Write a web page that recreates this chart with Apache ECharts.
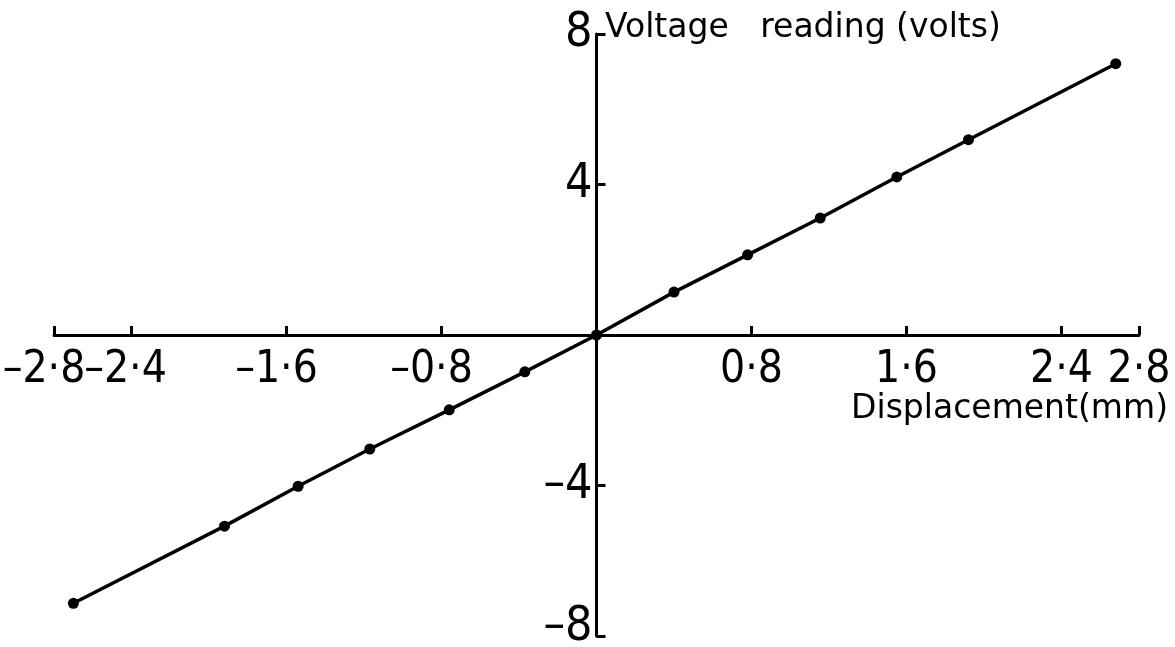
<!DOCTYPE html>
<html>
<head>
<meta charset="utf-8">
<script src="https://cdn.jsdelivr.net/npm/echarts@6/dist/echarts.min.js"></script>
<style>
  html, body { margin: 0; padding: 0; background: #fff; }
  #chart { width: 1175px; height: 647px; }
</style>
</head>
<body>
<div id="chart"></div>
<script>
// Calibration readings: displacement (mm) against voltage (V)
const displacement = [-2.70, -1.92, -1.54, -1.17, -0.76, -0.37, 0, 0.40, 0.78, 1.155, 1.55, 1.92, 2.68];
const voltage      = [-7.13, -5.08, -4.02, -3.03, -1.99, -0.98, 0, 1.14, 2.13, 3.11, 4.20, 5.19, 7.21];

// Tick positions and labels (x ticks split over two axis layers so the
// tightly packed -2.8 / -2.4 pair both stay visible)
const xTicksA = [-2.8, -1.6, 0.8, 2.4];
const xTicksB = [-2.4, -0.8, 1.6, 2.8];
const yTicks = [-8, -4, 4, 8];

const xTitle = 'Displacement(mm)';
const yTitle = 'Voltage   reading (volts)';

const numFont = "'DejaVu Sans Condensed', 'Liberation Sans', sans-serif";
const titleFont = "'DejaVu Sans', sans-serif";
const DASH = '\u2013';

// Plot area in pixels; the axes cross at the data origin
const G = { left: 54, right: 36, top: 34, bottom: 11 };
const W = 1175 - G.left - G.right;
const H = 647 - G.top - G.bottom;
const xMin = -2.8, xMax = 2.8, yMin = -8, yMax = 8;
const yAxisShift = W * (0 - xMin) / (xMax - xMin);   // distance from grid left to x = 0
const xAxisShift = H * (0 - yMin) / (yMax - yMin);   // distance from grid bottom to y = 0

function fmt(v) {
  const s = Math.abs(v).toFixed(1).replace('.', '\u00b7');
  if (v < 0) return (v === -2.4 ? '{negR|' : '{neg|') + DASH + s + '}';
  return '{pos|' + s + '}';
}
function fmtY(v) {
  if (v === yMin) return '{lift|' + DASH + Math.abs(v) + '}';
  return '{n|' + (v < 0 ? DASH + Math.abs(v) : String(v)) + '}';
}

const xLabelSize = 44;
const xRich = {
  neg:  { fontFamily: numFont, fontSize: xLabelSize, color: '#000', padding: [0, 20, 0, 0] },
  negR: { fontFamily: numFont, fontSize: xLabelSize, color: '#000', padding: [0, 12, 0, 0] },
  pos:  { fontFamily: numFont, fontSize: xLabelSize, color: '#000' }
};
const yRich = {
  n:    { fontFamily: numFont, fontSize: 48, color: '#000' },
  lift: { fontFamily: numFont, fontSize: 48, color: '#000', padding: [0, 0, 16, 0] }
};

function xAxisLayer(ticks, showLine) {
  return {
    type: 'value',
    min: xMin,
    max: xMax,
    position: 'bottom',
    offset: -xAxisShift,
    axisLine: { show: showLine, onZero: false, lineStyle: { color: '#000', width: 3 } },
    axisTick: { show: true, inside: true, length: 9, customValues: ticks, lineStyle: { color: '#000', width: 3 } },
    axisLabel: {
      customValues: ticks,
      showMinLabel: true,
      showMaxLabel: true,
      hideOverlap: false,
      margin: 14,
      formatter: fmt,
      rich: xRich
    },
    splitLine: { show: false }
  };
}

const chart = echarts.init(document.getElementById('chart'), null, { renderer: 'canvas' });

chart.setOption({
  backgroundColor: '#ffffff',
  animation: false,
  grid: { left: G.left, right: G.right, top: G.top, bottom: G.bottom, outerBoundsMode: 'none' },
  xAxis: [xAxisLayer(xTicksA, true), xAxisLayer(xTicksB, false)],
  yAxis: {
    type: 'value',
    min: yMin,
    max: yMax,
    position: 'left',
    offset: -yAxisShift,
    axisLine: { onZero: false, lineStyle: { color: '#000', width: 3 } },
    axisTick: { show: true, inside: true, length: 9, customValues: yTicks, lineStyle: { color: '#000', width: 3 } },
    axisLabel: {
      customValues: yTicks,
      showMinLabel: true,
      showMaxLabel: true,
      margin: 4,
      formatter: fmtY,
      rich: yRich
    },
    splitLine: { show: false }
  },
  graphic: [
    {
      type: 'text',
      left: 605,
      top: 12,
      style: { text: yTitle, font: '33px ' + titleFont, fill: '#000' }
    },
    {
      type: 'text',
      right: 7,
      top: 393,
      style: { text: xTitle, font: '33px ' + titleFont, fill: '#000' }
    }
  ],
  series: [{
    type: 'line',
    xAxisIndex: 0,
    data: displacement.map((d, i) => [d, voltage[i]]),
    symbol: 'circle',
    symbolSize: 11,
    itemStyle: { color: '#000' },
    lineStyle: { color: '#000', width: 3.5 },
    z: 5
  }]
});
</script>
</body>
</html>
